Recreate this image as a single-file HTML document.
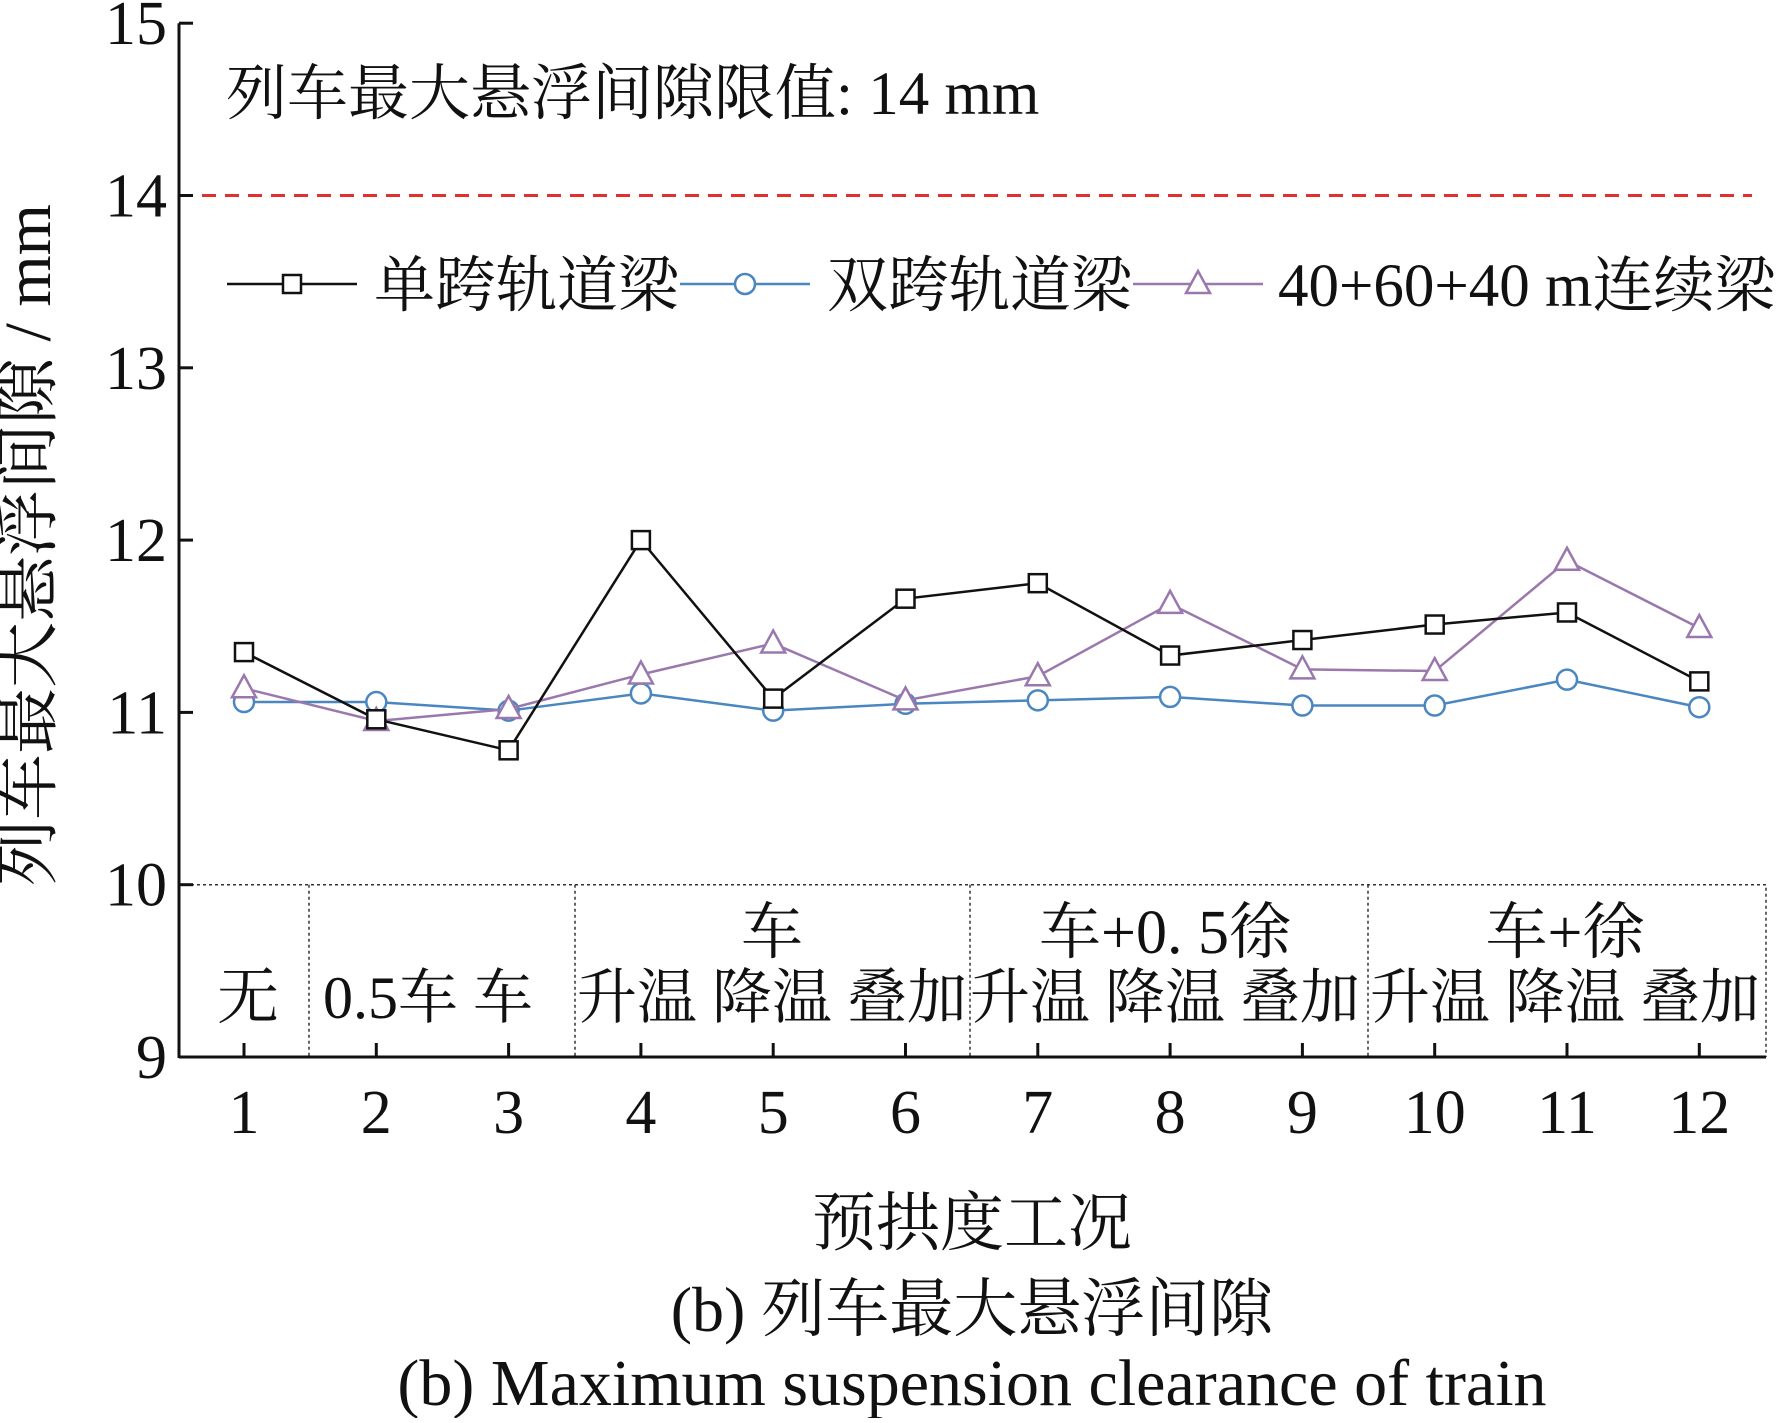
<!DOCTYPE html>
<html><head><meta charset="utf-8"><style>
body{margin:0;background:#fff}
svg text{font-family:"Liberation Serif","Noto Serif CJK SC",serif;fill:#111}
</style></head><body>
<svg width="1777" height="1418" viewBox="0 0 1777 1418" xmlns="http://www.w3.org/2000/svg">
<g id="plot"></g>
</svg>
<script>
const categories=[1,2,3,4,5,6,7,8,9,10,11,12];
const yTicks=[9,10,11,12,13,14,15];
const singleSpan=[11.35,10.96,10.78,12.0,11.08,11.66,11.75,11.33,11.42,11.51,11.58,11.18];
const doubleSpan=[11.06,11.06,11.01,11.11,11.01,11.05,11.07,11.09,11.04,11.04,11.19,11.03];
const continuous=[11.14,10.95,11.02,11.22,11.40,11.07,11.21,11.63,11.25,11.24,11.88,11.49];
const limitValue=14;

const NS='http://www.w3.org/2000/svg';
const g=document.getElementById('plot');
const X0=179,XR=1766;
const xs=i=>244+(i-1)*132.3;
const ys=v=>1057-(v-9)*172.3;
function el(t,a,txt){const e=document.createElementNS(NS,t);for(const k in a)e.setAttribute(k,a[k]);if(txt!==undefined)e.textContent=txt;g.appendChild(e);return e;}

let e=el('line',{x1:X0,x2:1752,y1:ys(limitValue),y2:ys(limitValue),stroke:'#e03030','stroke-width':3,'stroke-dasharray':'14,9'});


e=el('polyline',{points:`${X0},${ys(10)} ${XR},${ys(10)} ${XR},${ys(9)}`,fill:'none',stroke:'#333','stroke-width':1.5,'stroke-dasharray':'3,3'});


[309,575,970,1368].forEach(x=>{
 const d=el('line',{x1:x,x2:x,y1:ys(10),y2:ys(9),stroke:'#333','stroke-width':1.5,'stroke-dasharray':'3,3'});
 
 
});
e=el('line',{x1:X0,x2:X0,y1:ys(15),y2:ys(9)+1,stroke:'#111','stroke-width':3});


e=el('line',{x1:X0,x2:XR,y1:ys(9),y2:ys(9),stroke:'#111','stroke-width':3});


yTicks.forEach(v=>{
 el('line',{x1:X0,x2:X0+14,y1:ys(v),y2:ys(v),stroke:'#111','stroke-width':3});
 const t=el('text',{x:X0-12,y:ys(v)+21,'text-anchor':'end','font-size':62},String(v));
 
 
});
categories.forEach(c=>{
 el('line',{x1:xs(c),x2:xs(c),y1:ys(9),y2:ys(9)-14,stroke:'#111','stroke-width':3});
 const t=el('text',{x:xs(c),y:1133,'text-anchor':'middle','font-size':62},String(c));
 
 
});
function series(vals,color,marker,name){
 const p=el('polyline',{points:vals.map((v,i)=>xs(categories[i])+','+ys(v)).join(' '),fill:'none',stroke:color,'stroke-width':2.5});
 
 
 vals.forEach((v,i)=>{
  const m=drawMarker(marker,xs(categories[i]),ys(v),color);
  
  
 });
}
function drawMarker(m,x,y,c){
 if(m==='sq')return el('rect',{x:x-9,y:y-9,width:18,height:18,fill:'#fff',stroke:c,'stroke-width':2.5});
 if(m==='ci')return el('circle',{cx:x,cy:y,r:10,fill:'#fff',stroke:c,'stroke-width':2.5});
 return el('polygon',{points:`${x},${y-13} ${x-12},${y+9} ${x+12},${y+9}`,fill:'#fff',stroke:c,'stroke-width':2.5});
}
series(doubleSpan,'#4a86c0','ci','double-span');
series(continuous,'#9a78ad','tr','continuous');
series(singleSpan,'#111','sq','single-span');

const leg=[[227,'#111','sq','单跨轨道梁',374],[680,'#4a86c0','ci','双跨轨道梁',827],[1133,'#9a78ad','tr','40+60+40 m连续梁',1278]];
leg.forEach(([x,c,m,label,tx])=>{
 const l=el('line',{x1:x,x2:x+130,y1:284,y2:284,stroke:c,'stroke-width':2.5});
 
 
 drawMarker(m,x+65,284,c);
 const t=el('text',{x:tx,y:306,'font-size':61},label);
 
 
});
const texts=[
 [226,114,'start',61,'列车最大悬浮间隙限值: 14 mm','limit-annotation'],
 [248,1018,'middle',62,'无','case-none'],
 [428,1018,'middle',60,'0.5车  车','case-train'],
 [772,953,'middle',62,'车','group-train'],
 [1165,953,'middle',62,'车+0. 5徐','group-train-half-creep'],
 [1565,953,'middle',62,'车+徐','group-train-creep'],
 [772,1018,'middle',60,'升温 降温 叠加','case-temp-1'],
 [1165,1018,'middle',60,'升温 降温 叠加','case-temp-2'],
 [1565,1018,'middle',60,'升温 降温 叠加','case-temp-3'],
 [972,1245,'middle',64,'预拱度工况','x-axis-title'],
 [972,1331,'middle',64,'(b) 列车最大悬浮间隙','caption-cn'],
 [972,1405,'middle',66,'(b) Maximum suspension clearance of train','caption-en']
];
texts.forEach(([x,y,a,s,txt,n])=>{
 const t=el('text',{x:x,y:y,'text-anchor':a,'font-size':s},txt);
 
 
});
const yt=el('text',{x:0,y:0,'text-anchor':'middle','font-size':66,transform:'translate(50,545) rotate(-90)'},'列车最大悬浮间隙 / mm');


</script>
</body></html>
